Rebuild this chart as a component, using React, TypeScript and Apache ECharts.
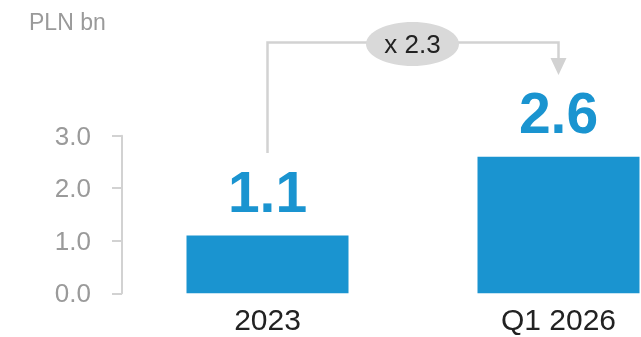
import React, { useEffect, useRef } from "react";
import * as echarts from "echarts";

const categories = ["2023", "Q1 2026"];
const values = [1.1, 2.6];
const valueLabels = ["1.1", "2.6"];
const yTicks = [0, 1, 2, 3];
const unitLabel = "PLN bn";
const growthLabel = "x 2.3";

const FONT = "'Liberation Sans', Arial, Helvetica, sans-serif";
const BLUE = "#1a94d0";

export default function App() {
  const ref = useRef<HTMLDivElement>(null);
  useEffect(() => {
    if (!ref.current) return;
    const chart = echarts.init(ref.current, undefined, { renderer: "svg" });
    const option: any = {
      animation: false,
      grid: { left: 122, top: 135.7, height: 157.6, width: 582, outerBoundsMode: "none", containLabel: false },
      xAxis: {
        type: "category",
        data: categories,
        axisLine: { show: false },
        axisTick: { show: false },
        axisLabel: {
          margin: 11,
          color: "#222",
          fontSize: 30,
          lineHeight: 30,
          fontFamily: FONT,
        },
      },
      yAxis: {
        type: "value",
        min: yTicks[0],
        max: yTicks[yTicks.length - 1],
        interval: 1,
        splitLine: { show: false },
        axisLine: { show: true, lineStyle: { color: "#d2d2d2", width: 2 } },
        axisTick: { show: true, length: 10, lineStyle: { color: "#d2d2d2", width: 2 } },
        axisLabel: {
          margin: 31,
          color: "#9a9a9a",
          fontSize: 26,
          fontFamily: FONT,
          formatter: (v: number) => v.toFixed(1),
        },
      },
      series: [
        {
          type: "bar",
          data: values,
          barWidth: 162,
          itemStyle: { color: BLUE },
          label: {
            show: true,
            position: "top",
            distance: 15,
            color: BLUE,
            fontSize: 57,
            lineHeight: 57,
            fontWeight: "bold",
            fontFamily: FONT,
            formatter: (p: any) => valueLabels[p.dataIndex],
          },
        },
      ],
    };
    chart.setOption(option);

    const x1 = chart.convertToPixel({ xAxisIndex: 0 }, categories[0]) as number;
    const x2 = chart.convertToPixel({ xAxisIndex: 0 }, categories[1]) as number;
    const yTop = 42.5;
    const lineColor = "#d2d2d2";
    const mid = (x1 + x2) / 2;

    chart.setOption({
      graphic: [
        {
          type: "text",
          left: 29,
          top: 10,
          style: { text: unitLabel, fill: "#9a9a9a", fontSize: 23, fontFamily: FONT },
        },
        {
          type: "polyline",
          shape: { points: [[x1, 153], [x1, yTop], [x2, yTop], [x2, 60]] },
          style: { stroke: lineColor, lineWidth: 2.5, fill: null },
        },
        {
          type: "polygon",
          shape: { points: [[x2 - 8, 58], [x2 + 8, 58], [x2, 75]] },
          style: { fill: lineColor },
        },
        {
          type: "ellipse",
          shape: { cx: mid - 0.5, cy: 44, rx: 46.5, ry: 22 },
          style: { fill: "#d9d9d9" },
        },
        {
          type: "text",
          x: mid - 0.5,
          y: 44,
          style: {
            text: growthLabel,
            fill: "#222",
            fontSize: 26,
            fontFamily: FONT,
            align: "center",
            verticalAlign: "middle",
          },
        },
      ],
    });

    return () => chart.dispose();
  }, []);
  return (
    <div
      ref={ref}
      style={{ position: "fixed", left: 0, top: 0, width: 641, height: 337 }}
    />
  );
}
